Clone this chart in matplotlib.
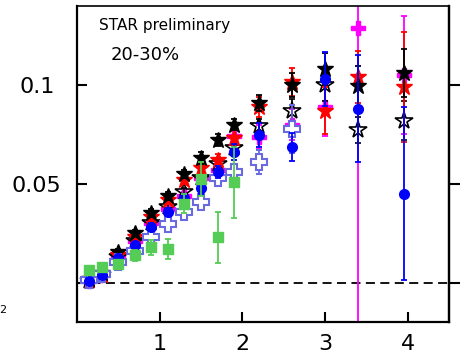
import matplotlib
matplotlib.use("Agg")
import matplotlib.pyplot as plt
import numpy as np

# bin centres
x = [0.15, 0.3, 0.5, 0.7, 0.9, 1.1, 1.3, 1.5, 1.7, 1.9, 2.2, 2.6, 3.0, 3.4, 3.95]

# filled black stars
blk = [0.002, 0.005, 0.0155, 0.025, 0.035, 0.044, 0.055, 0.063, 0.072, 0.080, 0.091, 0.100, 0.108, 0.0995, 0.106]
blk_err = [0.001, 0.001, 0.0015, 0.0015, 0.002, 0.002, 0.002, 0.003, 0.003, 0.003, 0.004, 0.006, 0.008, 0.010, 0.012]

# red stars
red = [0.0015, 0.004, 0.014, 0.023, 0.033, 0.042, 0.052, 0.058, 0.062, 0.073, 0.089, 0.1015, 0.087, 0.104, 0.099]
red_err = [0.001, 0.001, 0.0015, 0.0015, 0.002, 0.002, 0.002, 0.003, 0.003, 0.004, 0.005, 0.007, 0.012, 0.013, 0.028]

# magenta crosses
mag = [0.001, 0.004, 0.013, 0.021, 0.030, 0.037, 0.044, 0.053, 0.057, 0.074, 0.0735, 0.080, 0.089, 0.129, 0.105]
mag_err = [0.001, 0.001, 0.0015, 0.0015, 0.002, 0.002, 0.002, 0.003, 0.003, 0.004, 0.006, 0.008, 0.015, 0.15, 0.03]

# blue circles
blu = [0.001, 0.004, 0.0125, 0.019, 0.028, 0.0355, 0.043, 0.048, 0.056, 0.066, 0.0746, 0.0685, 0.103, 0.088, 0.045]
blu_err = [0.001, 0.001, 0.0015, 0.0015, 0.002, 0.002, 0.002, 0.003, 0.003, 0.004, 0.006, 0.007, 0.0137, 0.027, 0.0437]

# open black stars
oblk = [0.001, 0.004, 0.013, 0.021, 0.030, 0.038, 0.046, 0.053, 0.060, 0.068, 0.079, 0.087, 0.100, 0.077, 0.082]
oblk_err = [0.001, 0.001, 0.0015, 0.0015, 0.002, 0.002, 0.002, 0.003, 0.003, 0.003, 0.004, 0.006, 0.008, 0.0066, 0.010]

# open blue crosses (up to 2.6)
x_ocr = x[:12]
ocr = [0.0015, 0.0045, 0.0105, 0.016, 0.023, 0.0295, 0.0355, 0.041, 0.053, 0.056, 0.061, 0.0777]
ocr_err = [0.001, 0.001, 0.0015, 0.0015, 0.002, 0.002, 0.002, 0.003, 0.003, 0.004, 0.006, 0.012]

# green squares (up to 1.9)
x_grn = x[:10]
grn = [0.0061, 0.0076, 0.0096, 0.0137, 0.0178, 0.0168, 0.040, 0.0523, 0.0228, 0.0508]
grn_err = [0.002, 0.002, 0.002, 0.003, 0.0037, 0.005, 0.005, 0.0086, 0.0128, 0.018]

fig = plt.figure(figsize=(4.61, 3.59), dpi=100)
ax = fig.add_axes([77/461, 37/359, 372/461, 316/359])

ax.axhline(0, color='black', linestyle=(0, (5, 3)), linewidth=1.3, zorder=1)

ekw = dict(linestyle='none', capsize=2.5, elinewidth=1.3, capthick=1.3)

ax.errorbar(x, mag, yerr=mag_err, marker='P', color='#ff00ff', ms=10, mec='#ff00ff', zorder=2, **ekw)
ax.errorbar(x, oblk, yerr=oblk_err, marker='*', color='black', ms=13, mfc='none', mew=1.2, zorder=2.5, **ekw)
ax.errorbar(x, red, yerr=red_err, marker='*', color='#ff0000', ms=12, mec='#ff0000', zorder=3, **ekw)
ax.errorbar(x, blk, yerr=blk_err, marker='*', color='black', ms=12, zorder=4, **ekw)
ax.errorbar(x_ocr, ocr, yerr=ocr_err, marker='P', color='#6a6ae0', ms=11, mfc='white', mec='#6a6ae0', mew=1.5, zorder=5, **ekw)
ax.errorbar(x, blu, yerr=blu_err, marker='o', color='#0000ff', ms=7, zorder=6, **ekw)
ax.errorbar(x_grn, grn, yerr=grn_err, marker='s', color='#55cc55', ms=7.5, zorder=8, **ekw)

ax.set_xlim(0, 4.5)
ax.set_ylim(-0.02, 0.14)
ax.set_xticks([1, 2, 3, 4])
ax.set_yticks([0, 0.05, 0.1])
ax.set_yticklabels(['', '0.05', '0.1'], ha='center')

for s in ax.spines.values():
    s.set_linewidth(1.6)
ax.spines['top'].set_linewidth(1.2)

ax.tick_params(axis='x', direction='in', length=7, width=1.5, labelsize=16, pad=9)
ax.tick_params(axis='y', which='both', direction='in', length=7, width=1.5, labelsize=16, pad=29)

# right-hand ticks point outward
ay = ax.secondary_yaxis('right')
ay.set_yticks([0, 0.05, 0.1])
ay.set_yticklabels([])
ay.tick_params(direction='out', length=8, width=1.5)
ay.spines['right'].set_linewidth(1.6)

fig.text(99/461, 1 - 30/359, 'STAR preliminary', fontsize=11)
fig.text(111/461, 1 - 60/359, '20-30%', fontsize=13)
fig.text(-0.002, 1 - 313/359, '2', fontsize=8)

fig.savefig('out.png', dpi=100)
